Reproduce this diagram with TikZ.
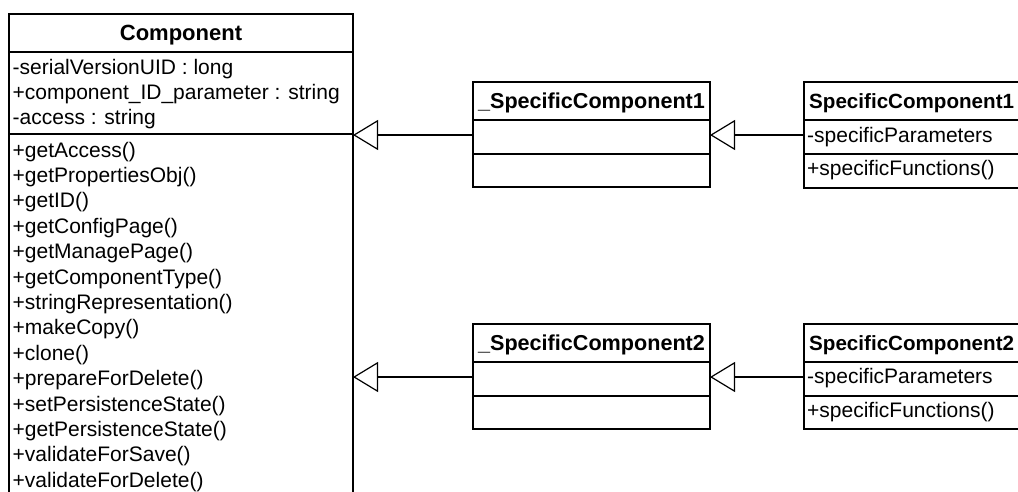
\documentclass[tikz,border=0pt]{standalone}
\usepackage{fontspec}
\setmainfont{Liberation Sans}
\usetikzlibrary{arrows.meta}
\begin{document}
\begin{tikzpicture}[x=1pt,y=-1pt,
  part/.style={draw, line width=1.5pt, fill=white, inner sep=0pt, outer sep=0pt},
  txt/.style={anchor=base west, inner sep=0pt, font=\fontsize{21}{25.4}\selectfont},
  ttl/.style={anchor=base, inner sep=0pt, font=\bfseries\fontsize{21.6}{25.4}\selectfont},
  edgettl/.style={ttl, anchor=base west, font=\bfseries\fontsize{20.6}{25.4}\selectfont},
  gen/.style={line width=1.2pt, -{Triangle[open, length=25pt, width=30pt, fill=white]}}]
\useasboundingbox (0,0) rectangle (1018,491);
\clip (0,0) rectangle (1018,491);

% Component class (runs past the lower edge)
\node[part, minimum width=344pt, minimum height=38pt]  (cH) at (181,33) {};
\node[part, minimum width=344pt, minimum height=82pt]  (cA) at (181,93) {};
\node[part, minimum width=344pt, minimum height=386pt] (cM) at (181,327) {};
\node[ttl, font=\bfseries\fontsize{22}{25.4}\selectfont] (cT) at (181,40.5) {Component};
\foreach \a [count=\i from 0] in {-serialVersionUID : long,
    +component\_ID\_parameter : string, -access : string}
  \node[txt] (ca\i) at (12.5,74+25.4*\i) {\a};
\foreach \m [count=\i from 0] in {+getAccess(), +getPropertiesObj(), +getID(),
    +getConfigPage(), +getManagePage(), +getComponentType(),
    +stringRepresentation(), +makeCopy(), +clone(), +prepareForDelete(),
    +setPersistenceState(), +getPersistenceState(), +validateForSave(),
    +validateForDelete()}
  \node[txt] (cm\i) at (12.5,157+25.4*\i) {\m};

% _SpecificComponent1 / _SpecificComponent2
\node[part, minimum width=237pt, minimum height=38pt] (m1H) at (591.5,101) {};
\node[part, minimum width=237pt, minimum height=34pt] (m1A) at (591.5,137) {};
\node[part, minimum width=237pt, minimum height=33pt] (m1M) at (591.5,170.5) {};
\node[ttl] (m1T) at (591.5,108) {\_SpecificComponent1};

\node[part, minimum width=237pt, minimum height=38pt] (m2H) at (591.5,343) {};
\node[part, minimum width=237pt, minimum height=34pt] (m2A) at (591.5,379) {};
\node[part, minimum width=237pt, minimum height=33pt] (m2M) at (591.5,412.5) {};
\node[ttl] (m2T) at (591.5,350) {\_SpecificComponent2};

% SpecificComponent1 / SpecificComponent2 (cut by the right edge)
\node[part, minimum width=220pt, minimum height=38pt] (r1H) at (914,101) {};
\node[part, minimum width=220pt, minimum height=34pt] (r1A) at (914,137) {};
\node[part, minimum width=220pt, minimum height=34pt] (r1M) at (914,171) {};
\node[edgettl] (r1T) at (809,108) {SpecificComponent1};
\node[txt] (r1a) at (807,142) {-specificParameters};
\node[txt] (r1m) at (807,175) {+specificFunctions()};

\node[part, minimum width=220pt, minimum height=38pt] (r2H) at (914,343) {};
\node[part, minimum width=220pt, minimum height=34pt] (r2A) at (914,379) {};
\node[part, minimum width=220pt, minimum height=33pt] (r2M) at (914,412.5) {};
\node[edgettl] (r2T) at (809,350) {SpecificComponent2};
\node[txt] (r2a) at (807,383) {-specificParameters};
\node[txt] (r2m) at (807,417) {+specificFunctions()};

% generalisation connectors
\coordinate (j1) at ([yshift=2pt]m1A.west);
\coordinate (j2) at ([yshift=2pt]m2A.west);
\coordinate (k1) at ([yshift=2pt]r1A.west);
\coordinate (k2) at ([yshift=2pt]r2A.west);
\draw[gen] (j1) -- (j1 -| cM.east);
\draw[gen] (j2) -- (j2 -| cM.east);
\draw[gen] (k1) -- (k1 -| m1A.east);
\draw[gen] (k2) -- (k2 -| m2A.east);
\end{tikzpicture}
\end{document}
